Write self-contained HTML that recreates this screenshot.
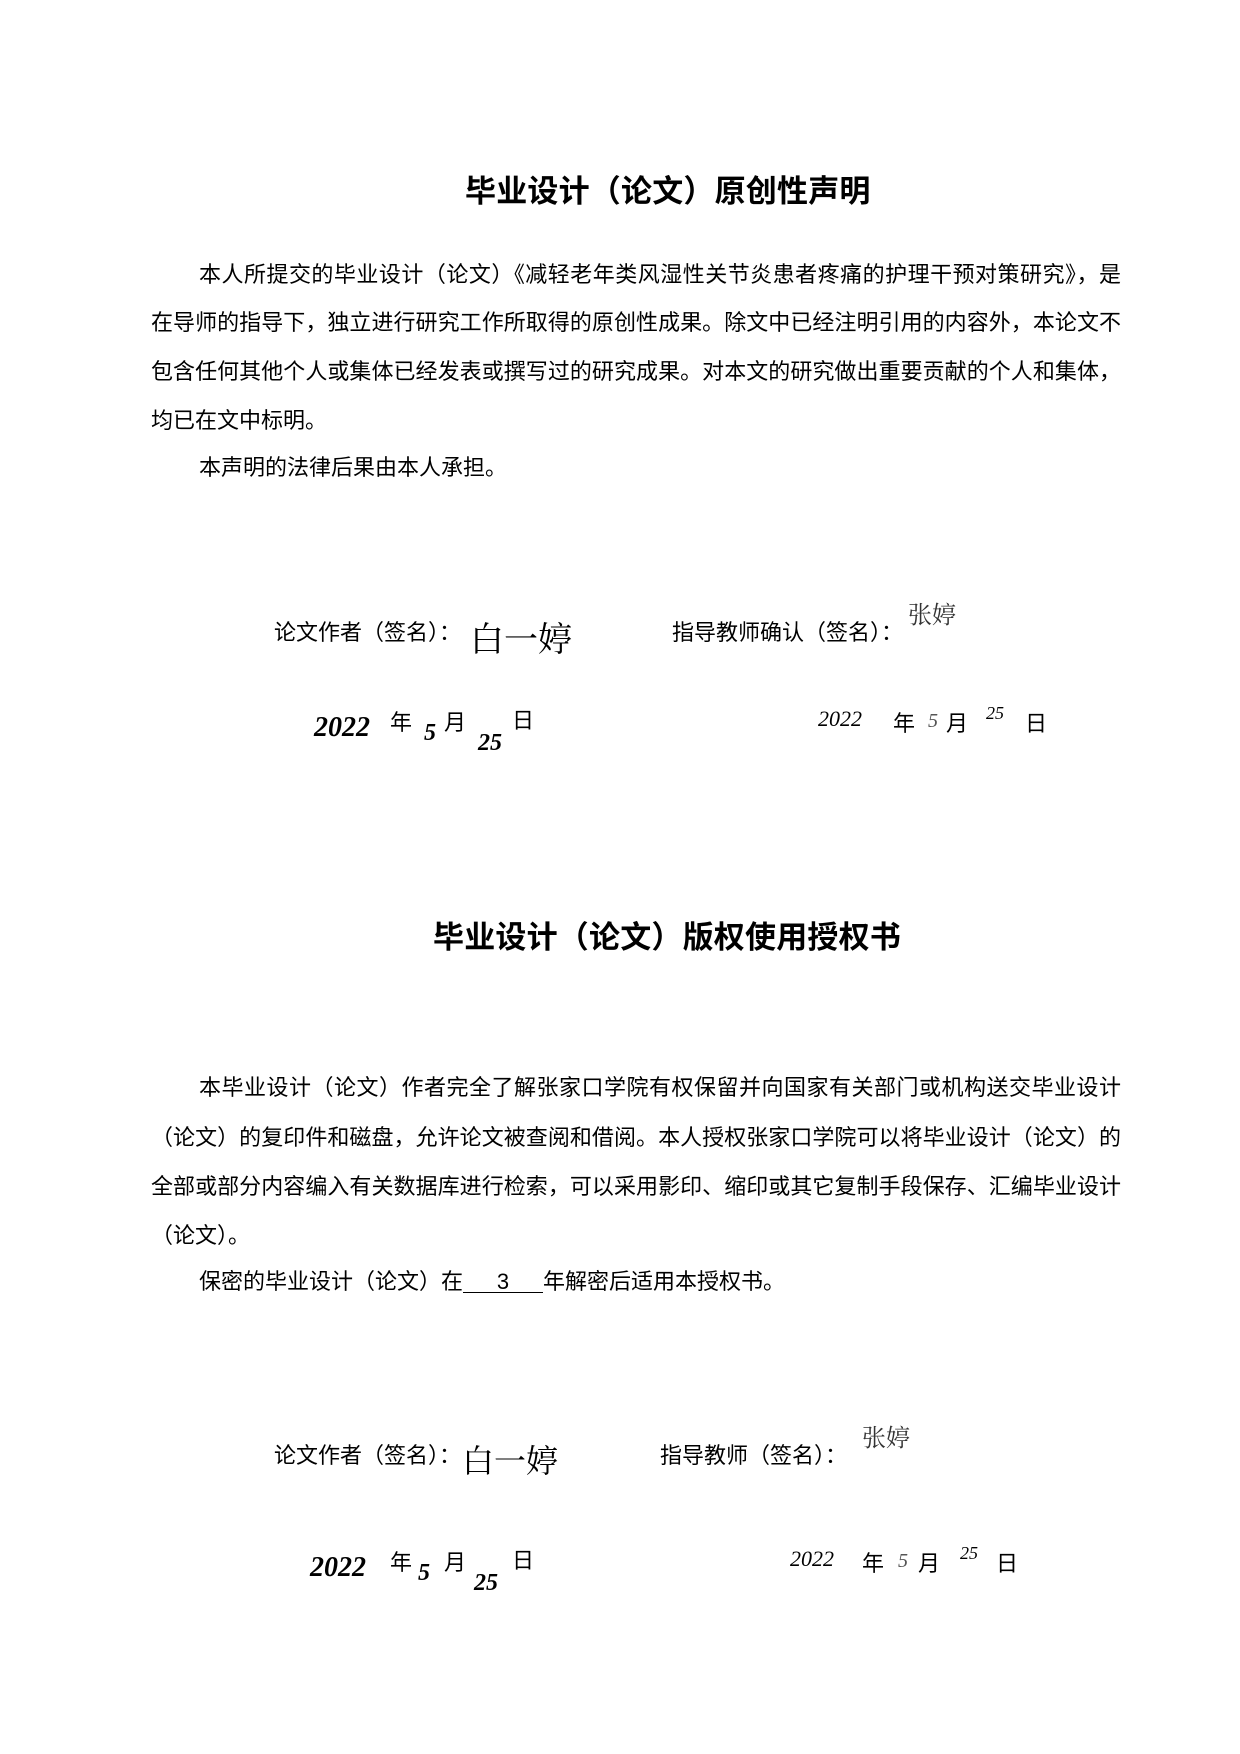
<!DOCTYPE html>
<html><head><meta charset="utf-8"><style>
html,body{margin:0;padding:0;background:#fff;}
body{width:1240px;height:1754px;position:relative;overflow:hidden;font-family:"Liberation Sans","Noto Sans CJK SC",sans-serif;color:#000;}
.t{position:absolute;font-size:22px;line-height:22px;white-space:nowrap;}
.j{text-align:justify;text-align-last:justify;white-space:normal;}
.h{position:absolute;font-size:31px;line-height:31px;font-weight:bold;white-space:nowrap;font-family:"Liberation Sans","Noto Sans CJK SC",sans-serif;}
.hw{position:absolute;font-family:"Liberation Serif",serif;font-style:italic;white-space:nowrap;}
.sig{position:absolute;font-family:"Liberation Sans","Noto Serif CJK SC",serif;white-space:nowrap;}
</style></head><body>
<div class="h" style="left:465px;top:176px;width:405px;letter-spacing:0.2px">毕业设计（论文）原创性声明</div>

<div class="t j" style="left:199px;top:264px;width:922px">本人所提交的毕业设计（论文）《减轻老年类风湿性关节炎患者疼痛的护理干预对策研究》，是</div>
<div class="t j" style="left:151px;top:312px;width:970px">在导师的指导下，独立进行研究工作所取得的原创性成果。除文中已经注明引用的内容外，本论文不</div>
<div class="t j" style="left:151px;top:361px;width:970px">包含任何其他个人或集体已经发表或撰写过的研究成果。对本文的研究做出重要贡献的个人和集体，</div>
<div class="t" style="left:151px;top:410px">均已在文中标明。</div>
<div class="t" style="left:199px;top:457px">本声明的法律后果由本人承担。</div>

<div class="t" style="left:274px;top:622px">论文作者（签名）：</div>
<div class="sig" style="left:470px;top:612px;font-size:34px">白一婷</div>
<div class="t" style="left:672px;top:622px">指导教师确认（签名）：</div>
<div class="sig" style="left:908px;top:595px;font-size:24px;color:#333">张婷</div>

<div class="hw" style="left:314px;top:712px;font-size:28px;font-weight:bold">2022</div>
<div class="t" style="left:390px;top:712px">年</div>
<div class="hw" style="left:424px;top:720px;font-size:24px;font-weight:bold">5</div>
<div class="t" style="left:444px;top:712px">月</div>
<div class="hw" style="left:478px;top:730px;font-size:24px;font-weight:bold">25</div>
<div class="t" style="left:512px;top:710px">日</div>

<div class="hw" style="left:818px;top:706px;font-size:22px">2022</div>
<div class="t" style="left:893px;top:713px">年</div>
<div class="hw" style="left:928px;top:710px;font-size:20px;color:#555">5</div>
<div class="t" style="left:946px;top:713px">月</div>
<div class="hw" style="left:986px;top:703px;font-size:18px">25</div>
<div class="t" style="left:1025px;top:713px">日</div>

<div class="h" style="left:433px;top:922px;width:469px;letter-spacing:0.2px">毕业设计（论文）版权使用授权书</div>

<div class="t j" style="left:199px;top:1077px;width:922px">本毕业设计（论文）作者完全了解张家口学院有权保留并向国家有关部门或机构送交毕业设计</div>
<div class="t j" style="left:151px;top:1127px;width:970px">（论文）的复印件和磁盘，允许论文被查阅和借阅。本人授权张家口学院可以将毕业设计（论文）的</div>
<div class="t j" style="left:151px;top:1176px;width:970px">全部或部分内容编入有关数据库进行检索，可以采用影印、缩印或其它复制手段保存、汇编毕业设计</div>
<div class="t" style="left:151px;top:1225px">（论文）。</div>
<div class="t" style="left:199px;top:1271px">保密的毕业设计（论文）在<span style="display:inline-block;width:80px;text-align:center;border-bottom:1px solid #000;line-height:20px">3</span>年解密后适用本授权书。</div>

<div class="t" style="left:274px;top:1445px">论文作者（签名）：</div>
<div class="sig" style="left:462px;top:1436px;font-size:32px">白一婷</div>
<div class="t" style="left:660px;top:1445px">指导教师（签名）：</div>
<div class="sig" style="left:862px;top:1418px;font-size:24px;color:#333">张婷</div>

<div class="hw" style="left:310px;top:1552px;font-size:28px;font-weight:bold">2022</div>
<div class="t" style="left:390px;top:1552px">年</div>
<div class="hw" style="left:418px;top:1560px;font-size:24px;font-weight:bold">5</div>
<div class="t" style="left:444px;top:1552px">月</div>
<div class="hw" style="left:474px;top:1570px;font-size:24px;font-weight:bold">25</div>
<div class="t" style="left:512px;top:1550px">日</div>

<div class="hw" style="left:790px;top:1546px;font-size:22px">2022</div>
<div class="t" style="left:862px;top:1553px">年</div>
<div class="hw" style="left:898px;top:1550px;font-size:20px;color:#555">5</div>
<div class="t" style="left:918px;top:1553px">月</div>
<div class="hw" style="left:960px;top:1543px;font-size:18px">25</div>
<div class="t" style="left:996px;top:1553px">日</div>
</body></html>
